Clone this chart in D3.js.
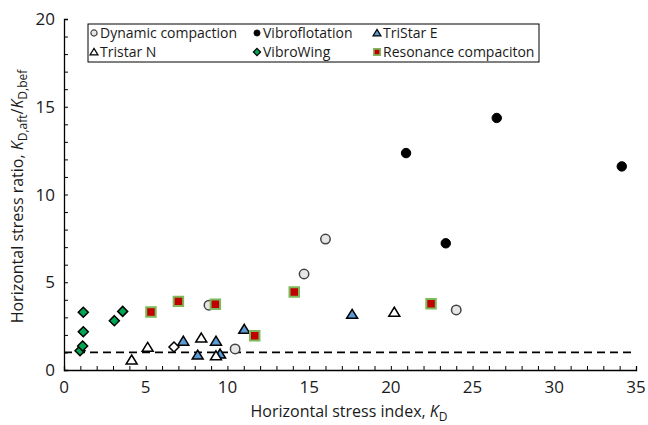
<!DOCTYPE html>
<html><head><meta charset="utf-8">
<script src="https://cdn.jsdelivr.net/npm/d3@7"></script>
<style>body{margin:0;background:#fff}svg{display:block}text{font-family:"Open Sans",sans-serif;fill:#1a1a1a}</style>
</head><body><div id="c"></div>
<script>
const xTicks=[0,5,10,15,20,25,30,35];
const yTicks=[0,5,10,15,20];
const dynX=[8.87,10.47,14.69,16.0,24.0], dynY=[3.69,1.2,5.47,7.46,3.42];
const vibX=[20.93,23.36,26.48,34.13], vibY=[12.36,7.22,14.36,11.6];
const teX=[7.30,8.18,9.30,9.55,11.03,17.63], teY=[1.64,0.85,1.64,0.91,2.32,3.17];
const tnX=[4.14,5.12,8.40,9.30,20.21], tnY=[0.57,1.29,1.82,0.81,3.29];
const vwX=[0.98,1.14,1.18,1.18,3.08,3.59], vwY=[1.10,1.37,2.18,3.29,2.81,3.34];
const rcX=[5.32,7.0,9.26,11.67,14.09,22.46], rcY=[3.30,3.91,3.74,1.95,4.44,3.78];
const odX=[6.73], odY=[1.31];
const refY=1;
const seriesNames=["Dynamic compaction","Vibroflotation","TriStar E","Tristar N","VibroWing","Resonance compaciton"];

const W=648,H=425;
const svg=d3.select("#c").append("svg").attr("width",W).attr("height",H);
const x=d3.scaleLinear().domain([0,35]).range([64,636]);
const y=d3.scaleLinear().domain([0,20]).range([370,19]);

const xa=svg.append("g").attr("transform","translate(0,370)")
  .call(d3.axisBottom(x).tickValues(d3.range(0,36,1)).tickSize(-4).tickFormat(""));
const ya=svg.append("g").attr("transform","translate(64,0)")
  .call(d3.axisLeft(y).tickValues(d3.range(0,21,1)).tickSize(-4).tickFormat(""));
[xa,ya].forEach(g=>{g.select(".domain").attr("stroke","#000").attr("stroke-width",1.3);g.selectAll(".tick line").attr("stroke","#000")});
svg.append("g").selectAll("text").data(xTicks).join("text")
  .attr("x",d=>x(d)).attr("y",393).attr("text-anchor","middle").attr("font-size",17).text(d=>d);
svg.append("g").selectAll("text").data(yTicks).join("text")
  .attr("x",55).attr("y",d=>y(d)+6).attr("text-anchor","end").attr("font-size",17).text(d=>d);

const xt=svg.append("text").attr("x",x(17.5)-1).attr("y",417).attr("text-anchor","middle").attr("font-size",16);
xt.append("tspan").text("Horizontal stress index, ");
xt.append("tspan").attr("font-style","italic").text("K");
xt.append("tspan").attr("font-size",12).attr("dy",4).text("D");
const yt=svg.append("text").attr("transform","translate(23,"+(y(10)+2)+") rotate(-90)").attr("text-anchor","middle").attr("font-size",16);
yt.append("tspan").text("Horizontal stress ratio, ");
yt.append("tspan").attr("font-style","italic").text("K");
yt.append("tspan").attr("font-size",12).attr("dy",4).text("D,aft");
yt.append("tspan").attr("dy",-4).text("/");
yt.append("tspan").attr("font-style","italic").text("K");
yt.append("tspan").attr("font-size",12).attr("dy",4).text("D,bef");

svg.append("line").attr("x1",x(0)).attr("x2",x(35)).attr("y1",y(refY)).attr("y2",y(refY))
  .attr("stroke","#000").attr("stroke-width",1.8).attr("stroke-dasharray","8,5");

const diamond=r=>`M0,${-r}L${r},0L0,${r}L${-r},0Z`;
const tri=r=>`M0,${-r}L${r*1.1},${r*0.8}L${-r*1.1},${r*0.8}Z`;
const sym={circle:d3.symbol().type(d3.symbolCircle).size(70)(),
  tri:tri(5), dia:diamond(5), sq:d3.symbol().type(d3.symbolSquare).size(90)()};
const styles=[
  {xs:dynX,ys:dynY,p:sym.circle,fill:"#e6e6e6",stroke:"#444",sw:1.5},
  {xs:vibX,ys:vibY,p:sym.circle,fill:"#000",stroke:"#000",sw:1},
  {xs:teX,ys:teY,p:sym.tri,fill:"#5b9bd5",stroke:"#000",sw:1.5},
  {xs:tnX,ys:tnY,p:sym.tri,fill:"#fff",stroke:"#000",sw:1.5},
  {xs:vwX,ys:vwY,p:sym.dia,fill:"#00a651",stroke:"#000",sw:1.5},
  {xs:rcX,ys:rcY,p:sym.sq,fill:"#c00000",stroke:"#7fb85a",sw:2}
];
function draw(s,xs,ys){
  svg.append("g").selectAll("path").data(xs.map((v,i)=>[v,ys[i]])).join("path")
    .attr("d",s.p).attr("transform",d=>`translate(${x(d[0])},${y(d[1])})`)
    .attr("fill",s.fill).attr("stroke",s.stroke).attr("stroke-width",s.sw);
}
styles.forEach(s=>draw(s,s.xs,s.ys));
draw({p:sym.dia,fill:"#fff",stroke:"#000",sw:1.5},odX,odY);

svg.append("rect").attr("x",88).attr("y",24).attr("width",451).attr("height",38)
  .attr("fill","#fff").attr("stroke","#000").attr("stroke-width",1);
const lpos=[[94,33],[257,33],[377,33],[94,52],[257,52],[377,52]];
const lsym={circle:d3.symbol().type(d3.symbolCircle).size(30)(),tri:tri(3.6),
  dia:diamond(3.6),sq:d3.symbol().type(d3.symbolSquare).size(40)()};
const lk=["circle","circle","tri","tri","dia","sq"];
seriesNames.forEach((n,i)=>{
  const s=styles[i],[lx,ly]=lpos[i];
  svg.append("path").attr("d",lsym[lk[i]]).attr("transform",`translate(${lx},${ly})`)
    .attr("fill",s.fill).attr("stroke",s.stroke).attr("stroke-width",s.sw*0.8);
  svg.append("text").attr("x",lx+6).attr("y",ly+5).attr("font-size",14).text(n);
});
</script></body></html>
